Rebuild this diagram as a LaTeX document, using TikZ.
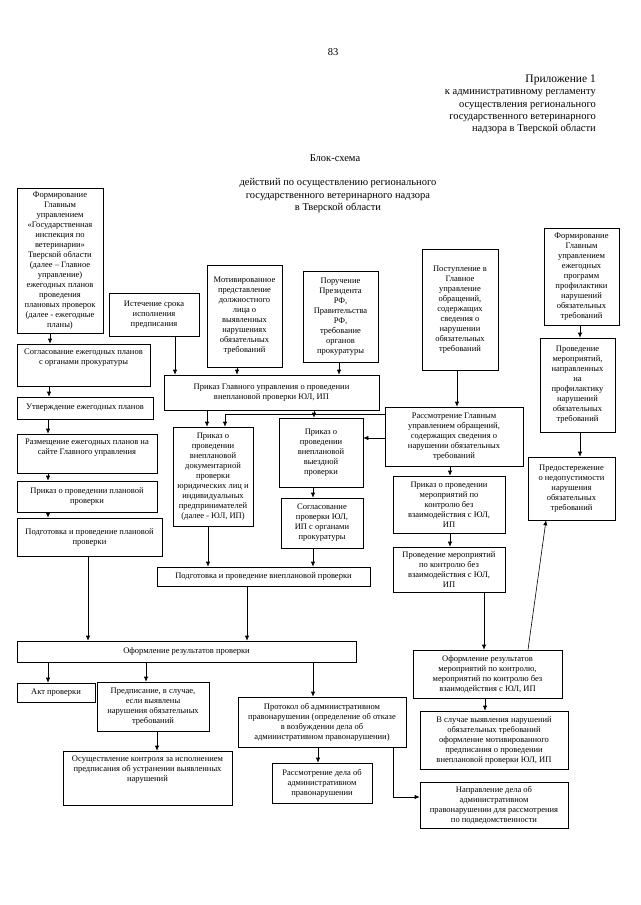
\documentclass[tikz,border=0pt]{standalone}
\usepackage{fontspec}
\setmainfont{Liberation Serif}
\usepackage{tikz}
\usetikzlibrary{arrows.meta,positioning,calc}

\tikzset{
  blk/.style={draw, line width=0.6pt, align=center, inner sep=1pt,
    font=\fontsize{8.5}{10}\selectfont},
  arr/.style={line width=0.6pt, -{Latex[length=5pt,width=4.2pt]}}
}

\begin{document}
\begin{tikzpicture}[x=1pt,y=-1pt]
  \useasboundingbox[fill=white] (0,0) rectangle (640,905);
  % Header
  \node[font=\fontsize{10.5}{12}\selectfont] (page) at (333,52) {83};
  \node[anchor=north east, align=right, font=\fontsize{10.5}{12.2}\selectfont, inner sep=0pt]
    (pril) at (596,75) {{\fontsize{11.5}{12.2}\selectfont Приложение 1}\\к административному регламенту\\осуществления регионального\\государственного ветеринарного\\надзора в Тверской области};
  \node[font=\fontsize{10.5}{12}\selectfont] (blok) at (335,158) {Блок-схема};
  \node[align=center, font=\fontsize{10.5}{12.5}\selectfont] (title) at (338,196)
    {действий по осуществлению регионального\\государственного ветеринарного надзора\\в Тверской области};
  % Top row
  \node[blk, minimum width=86pt, minimum height=145pt] (form) at (60,260.5)
    {Формирование\\Главным\\управлением\\«Государственная\\инспекция по\\ветеринарии»\\Тверской области\\(далее – Главное\\управление)\\ежегодных планов\\проведения\\плановых проверок\\(далее - ежегодные\\планы)};
  \node[blk, minimum width=90pt, minimum height=43pt] (istech) at (154,314.5)
    {Истечение срока\\исполнения\\предписания};
  \node[blk, minimum width=75pt, minimum height=102pt] (motiv) at (244.5,316)
    {Мотивированное\\представление\\должностного\\лица о\\выявленных\\нарушениях\\обязательных\\требований};
  \node[blk, minimum width=75pt, minimum height=91pt] (poruch) at (340.5,316.5)
    {Поручение\\Президента\\РФ,\\Правительства\\РФ,\\требование\\органов\\прокуратуры};
  \node[blk, minimum width=76pt, minimum height=121pt] (postup) at (460,309.5)
    {Поступление в\\Главное\\управление\\обращений,\\содержащих\\сведения о\\нарушении\\обязательных\\требований};
  \node[blk, minimum width=75pt, minimum height=97pt] (formprog) at (581.5,276.5)
    {Формирование\\Главным\\управлением\\ежегодных\\программ\\профилактики\\нарушений\\обязательных\\требований};
  \node[blk, minimum width=75pt, minimum height=94pt] (profil) at (577.5,385)
    {Проведение\\мероприятий,\\направленных\\на\\профилактику\\нарушений\\обязательных\\требований};
  % Planned inspections
  \node[blk, minimum width=133pt, minimum height=42pt] (sogl) at (83.5,365)
    {Согласование ежегодных планов\\с органами прокуратуры\\[6pt]};
  \node[blk, minimum width=136pt, minimum height=22pt] (utv) at (85,408)
    {Утверждение ежегодных планов};
  \node[blk, minimum width=140pt, minimum height=39pt] (razm) at (87,453.5)
    {Размещение ежегодных планов  на\\сайте Главного управления\\[4pt]};
  \node[blk, minimum width=140pt, minimum height=31pt] (prplan) at (87,496.5)
    {Приказ о проведении плановой\\проверки};
  \node[blk, minimum width=145pt, minimum height=38pt] (podgplan) at (89.5,537)
    {Подготовка и проведение плановой\\проверки};
  % Unplanned inspections
  \node[blk, minimum width=215pt, minimum height=35pt] (prgu) at (271.5,392.5)
    {Приказ Главного управления  о проведении\\внеплановой проверки ЮЛ, ИП};
  \node[blk, minimum width=80pt, minimum height=99pt] (dok) at (213,476.5)
    {Приказ о\\проведении\\внеплановой\\документарной\\проверки\\юридических лиц и\\индивидуальных\\предпринимателей\\(далее - ЮЛ, ИП)};
  \node[blk, minimum width=84pt, minimum height=69pt] (vyezd) at (321,452.5)
    {Приказ о\\проведении\\внеплановой\\выездной\\проверки};
  \node[blk, minimum width=82pt, minimum height=50pt] (soglpr) at (322,523)
    {Согласование\\проверки ЮЛ,\\ИП с органами\\прокуратуры};
  \node[blk, minimum width=213pt, minimum height=19pt] (podgvn) at (263.5,576.5)
    {Подготовка и проведение внеплановой проверки};
  % Control without interaction
  \node[blk, minimum width=138pt, minimum height=59pt] (rassm) at (454,436.5)
    {Рассмотрение Главным\\управлением обращений,\\содержащих сведения о\\нарушении обязательных\\требований};
  \node[blk, minimum width=112pt, minimum height=57pt] (prmer) at (449,504.5)
    {Приказ о  проведении\\мероприятий по\\контролю без\\взаимодействия с ЮЛ,\\ИП};
  \node[blk, minimum width=112pt, minimum height=45pt] (provmer) at (449,569.5)
    {Проведение мероприятий\\по контролю без\\взаимодействия с ЮЛ,\\ИП};
  \node[blk, minimum width=87pt, minimum height=63pt] (predost) at (571.5,488.5)
    {Предостережение\\о недопустимости\\нарушения\\обязательных\\требований};
  % Results
  \node[blk, minimum width=339pt, minimum height=21pt] (oform) at (186.5,651.5)
    {Оформление результатов проверки};
  \node[blk, minimum width=78pt, minimum height=19pt] (akt) at (56,692.5)
    {Акт проверки};
  \node[blk, minimum width=112pt, minimum height=49pt] (predpis) at (153,706.5)
    {Предписание, в случае,\\если выявлены\\нарушения обязательных\\требований};
  \node[blk, minimum width=169pt, minimum height=54pt] (osush) at (147.5,778)
    {Осуществление контроля за исполнением\\предписания об устранении выявленных\\нарушений\\[8pt]};
  \node[blk, minimum width=168pt, minimum height=50pt] (protokol) at (322,722)
    {Протокол об административном\\правонарушении (определение об отказе\\в возбуждении дела об\\административном правонарушении)};
  \node[blk, minimum width=100pt, minimum height=40pt] (rassmdela) at (322,783)
    {Рассмотрение дела об\\административном\\правонарушении};
  \node[blk, minimum width=149pt, minimum height=48pt] (oformmer) at (487.5,674)
    {Оформление результатов\\мероприятий по контролю,\\мероприятий по контролю без\\взаимодействия с ЮЛ, ИП};
  \node[blk, minimum width=148pt, minimum height=58pt] (vsluch) at (494,740)
    {В случае выявления нарушений\\обязательных требований\\оформление мотивированного\\предписания о проведении\\внеплановой проверки ЮЛ, ИП};
  \node[blk, minimum width=148pt, minimum height=46pt] (napr) at (494,805)
    {Направление дела об\\административном\\правонарушении для рассмотрения\\по подведомственности};
  % Arrows, planned branch
  \draw[arr] (form.south -| 50,0) -- (sogl.north -| 50,0);
  \draw[arr] (sogl.south -| 49,0) -- (utv.north -| 49,0);
  \draw[arr] (utv.south -| 48,0) -- (razm.north -| 48,0);
  \draw[arr] (razm.south -| 48,0) -- (prplan.north -| 48,0);
  \draw[arr] (prplan.south -| 48,0) -- (podgplan.north -| 48,0);
  \draw[arr] (podgplan.south -| 88,0) -- (oform.north -| 88,0);
  % Arrows, unplanned branch
  \draw[arr] (istech.south -| 175,0) -- (prgu.north -| 175,0);
  \draw[arr] (motiv.south -| 237,0) -- (prgu.north -| 237,0);
  \draw[arr] (poruch.south -| 339,0) -- (prgu.north -| 339,0);
  \draw[arr] (prgu.south -| 207,0) -- (dok.north -| 207,0);
  \draw[arr] (prgu.south -| 314,0) -- (vyezd.north -| 314,0);
  \draw[arr] (rassm.west |- 0,414) -| (dok.north -| 225,0);
  \draw[arr] (rassm.west |- 0,438) -- (vyezd.east |- 0,438);
  \draw[arr] (vyezd.south -| 313,0) -- (soglpr.north -| 313,0);
  \draw[arr] (dok.south -| 208,0) -- (podgvn.north -| 208,0);
  \draw[arr] (soglpr.south -| 313,0) -- (podgvn.north -| 313,0);
  \draw[arr] (podgvn.south -| 247,0) -- (oform.north -| 247,0);
  % Arrows, right side
  \draw[arr] (postup.south -| 457,0) -- (rassm.north -| 457,0);
  \draw[arr] (rassm.south -| 450,0) -- (prmer.north -| 450,0);
  \draw[arr] (prmer.south -| 450,0) -- (provmer.north -| 450,0);
  \draw[arr] (provmer.south -| 484,0) -- (oformmer.north -| 484,0);
  \draw[arr] (oformmer.north -| 528,0) -- (predost.south -| 546,0);
  \draw[arr] (formprog.south -| 580,0) -- (profil.north -| 580,0);
  \draw[arr] (profil.south -| 580,0) -- (predost.north -| 580,0);
  % Arrows, results
  \draw[arr] (oform.south -| 48,0) -- (akt.north -| 48,0);
  \draw[arr] (oform.south -| 146,0) -- (predpis.north -| 146,0);
  \draw[arr] (oform.south -| 313,0) -- (protokol.north -| 313,0);
  \draw[arr] (predpis.south -| 157,0) -- (osush.north -| 157,0);
  \draw[arr] (protokol.south -| 318,0) -- (rassmdela.north -| 318,0);
  \draw[arr] (protokol.south -| 393,0) |- (napr.west |- 0,797);
  \draw[arr] (oformmer.south -| 485,0) -- (vsluch.north -| 485,0);
\end{tikzpicture}
\end{document}
